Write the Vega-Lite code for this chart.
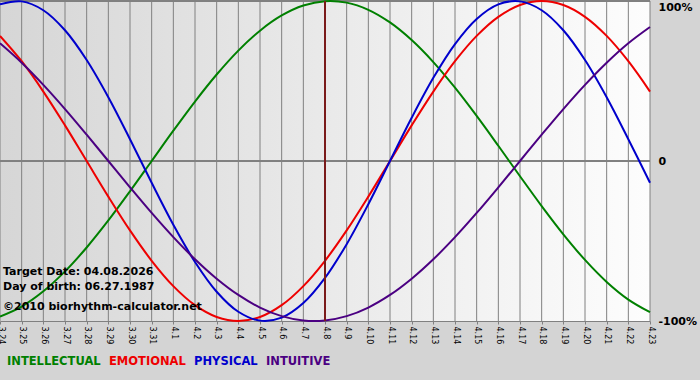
{
  "$schema": "https://vega.github.io/schema/vega-lite/v6.json",
  "width": 650,
  "height": 320,
  "autosize": {"type": "none"},
  "padding": {"left": 0, "top": 1, "right": 50, "bottom": 59},
  "background": "#d4d4d4",
  "config": {"view": {"stroke": null}, "font": "DejaVu Sans"},
  "title": {
    "text": ["Target Date: 04.08.2026", "Day of birth: 06.27.1987"],
    "subtitle": "©2010 biorhythm-calculator.net",
    "anchor": "start",
    "frame": "group",
    "orient": "top",
    "baseline": "top",
    "offset": 0,
    "dx": 3,
    "dy": 315,
    "font": "DejaVu Sans",
    "fontSize": 11,
    "fontWeight": "bold",
    "color": "#000000",
    "lineHeight": 15,
    "subtitleFont": "DejaVu Sans",
    "subtitleFontSize": 11,
    "subtitleFontWeight": "bold",
    "subtitleColor": "#000000",
    "subtitlePadding": 9
  },
  "data": {
    "values": [
      {"date": "3.24", "series": "INTELLECTUAL", "value": -0.9718},
      {"date": "3.25", "series": "INTELLECTUAL", "value": -0.9096},
      {"date": "3.26", "series": "INTELLECTUAL", "value": -0.8146},
      {"date": "3.27", "series": "INTELLECTUAL", "value": -0.6901},
      {"date": "3.28", "series": "INTELLECTUAL", "value": -0.5406},
      {"date": "3.29", "series": "INTELLECTUAL", "value": -0.3717},
      {"date": "3.30", "series": "INTELLECTUAL", "value": -0.1893},
      {"date": "3.31", "series": "INTELLECTUAL", "value": 0},
      {"date": "4.1", "series": "INTELLECTUAL", "value": 0.1893},
      {"date": "4.2", "series": "INTELLECTUAL", "value": 0.3717},
      {"date": "4.3", "series": "INTELLECTUAL", "value": 0.5406},
      {"date": "4.4", "series": "INTELLECTUAL", "value": 0.6901},
      {"date": "4.5", "series": "INTELLECTUAL", "value": 0.8146},
      {"date": "4.6", "series": "INTELLECTUAL", "value": 0.9096},
      {"date": "4.7", "series": "INTELLECTUAL", "value": 0.9718},
      {"date": "4.8", "series": "INTELLECTUAL", "value": 0.9989},
      {"date": "4.9", "series": "INTELLECTUAL", "value": 0.9898},
      {"date": "4.10", "series": "INTELLECTUAL", "value": 0.945},
      {"date": "4.11", "series": "INTELLECTUAL", "value": 0.866},
      {"date": "4.12", "series": "INTELLECTUAL", "value": 0.7557},
      {"date": "4.13", "series": "INTELLECTUAL", "value": 0.6182},
      {"date": "4.14", "series": "INTELLECTUAL", "value": 0.4582},
      {"date": "4.15", "series": "INTELLECTUAL", "value": 0.2817},
      {"date": "4.16", "series": "INTELLECTUAL", "value": 0.0951},
      {"date": "4.17", "series": "INTELLECTUAL", "value": -0.0951},
      {"date": "4.18", "series": "INTELLECTUAL", "value": -0.2817},
      {"date": "4.19", "series": "INTELLECTUAL", "value": -0.4582},
      {"date": "4.20", "series": "INTELLECTUAL", "value": -0.6182},
      {"date": "4.21", "series": "INTELLECTUAL", "value": -0.7557},
      {"date": "4.22", "series": "INTELLECTUAL", "value": -0.866},
      {"date": "4.23", "series": "INTELLECTUAL", "value": -0.945},
      {"date": "3.24", "series": "EMOTIONAL", "value": 0.7818},
      {"date": "3.25", "series": "EMOTIONAL", "value": 0.6235},
      {"date": "3.26", "series": "EMOTIONAL", "value": 0.4339},
      {"date": "3.27", "series": "EMOTIONAL", "value": 0.2225},
      {"date": "3.28", "series": "EMOTIONAL", "value": 0},
      {"date": "3.29", "series": "EMOTIONAL", "value": -0.2225},
      {"date": "3.30", "series": "EMOTIONAL", "value": -0.4339},
      {"date": "3.31", "series": "EMOTIONAL", "value": -0.6235},
      {"date": "4.1", "series": "EMOTIONAL", "value": -0.7818},
      {"date": "4.2", "series": "EMOTIONAL", "value": -0.901},
      {"date": "4.3", "series": "EMOTIONAL", "value": -0.9749},
      {"date": "4.4", "series": "EMOTIONAL", "value": -1},
      {"date": "4.5", "series": "EMOTIONAL", "value": -0.9749},
      {"date": "4.6", "series": "EMOTIONAL", "value": -0.901},
      {"date": "4.7", "series": "EMOTIONAL", "value": -0.7818},
      {"date": "4.8", "series": "EMOTIONAL", "value": -0.6235},
      {"date": "4.9", "series": "EMOTIONAL", "value": -0.4339},
      {"date": "4.10", "series": "EMOTIONAL", "value": -0.2225},
      {"date": "4.11", "series": "EMOTIONAL", "value": 0},
      {"date": "4.12", "series": "EMOTIONAL", "value": 0.2225},
      {"date": "4.13", "series": "EMOTIONAL", "value": 0.4339},
      {"date": "4.14", "series": "EMOTIONAL", "value": 0.6235},
      {"date": "4.15", "series": "EMOTIONAL", "value": 0.7818},
      {"date": "4.16", "series": "EMOTIONAL", "value": 0.901},
      {"date": "4.17", "series": "EMOTIONAL", "value": 0.9749},
      {"date": "4.18", "series": "EMOTIONAL", "value": 1},
      {"date": "4.19", "series": "EMOTIONAL", "value": 0.9749},
      {"date": "4.20", "series": "EMOTIONAL", "value": 0.901},
      {"date": "4.21", "series": "EMOTIONAL", "value": 0.7818},
      {"date": "4.22", "series": "EMOTIONAL", "value": 0.6235},
      {"date": "4.23", "series": "EMOTIONAL", "value": 0.4339},
      {"date": "3.24", "series": "PHYSICAL", "value": 0.9791},
      {"date": "3.25", "series": "PHYSICAL", "value": 0.9977},
      {"date": "3.26", "series": "PHYSICAL", "value": 0.9423},
      {"date": "3.27", "series": "PHYSICAL", "value": 0.817},
      {"date": "3.28", "series": "PHYSICAL", "value": 0.631},
      {"date": "3.29", "series": "PHYSICAL", "value": 0.3984},
      {"date": "3.30", "series": "PHYSICAL", "value": 0.1362},
      {"date": "3.31", "series": "PHYSICAL", "value": -0.1362},
      {"date": "4.1", "series": "PHYSICAL", "value": -0.3984},
      {"date": "4.2", "series": "PHYSICAL", "value": -0.631},
      {"date": "4.3", "series": "PHYSICAL", "value": -0.817},
      {"date": "4.4", "series": "PHYSICAL", "value": -0.9423},
      {"date": "4.5", "series": "PHYSICAL", "value": -0.9977},
      {"date": "4.6", "series": "PHYSICAL", "value": -0.9791},
      {"date": "4.7", "series": "PHYSICAL", "value": -0.8879},
      {"date": "4.8", "series": "PHYSICAL", "value": -0.7308},
      {"date": "4.9", "series": "PHYSICAL", "value": -0.5196},
      {"date": "4.10", "series": "PHYSICAL", "value": -0.2698},
      {"date": "4.11", "series": "PHYSICAL", "value": 0},
      {"date": "4.12", "series": "PHYSICAL", "value": 0.2698},
      {"date": "4.13", "series": "PHYSICAL", "value": 0.5196},
      {"date": "4.14", "series": "PHYSICAL", "value": 0.7308},
      {"date": "4.15", "series": "PHYSICAL", "value": 0.8879},
      {"date": "4.16", "series": "PHYSICAL", "value": 0.9791},
      {"date": "4.17", "series": "PHYSICAL", "value": 0.9977},
      {"date": "4.18", "series": "PHYSICAL", "value": 0.9423},
      {"date": "4.19", "series": "PHYSICAL", "value": 0.817},
      {"date": "4.20", "series": "PHYSICAL", "value": 0.631},
      {"date": "4.21", "series": "PHYSICAL", "value": 0.3984},
      {"date": "4.22", "series": "PHYSICAL", "value": 0.1362},
      {"date": "4.23", "series": "PHYSICAL", "value": -0.1362},
      {"date": "3.24", "series": "INTUITIVE", "value": 0.7357},
      {"date": "3.25", "series": "INTUITIVE", "value": 0.6142},
      {"date": "3.26", "series": "INTUITIVE", "value": 0.4759},
      {"date": "3.27", "series": "INTUITIVE", "value": 0.3247},
      {"date": "3.28", "series": "INTUITIVE", "value": 0.1646},
      {"date": "3.29", "series": "INTUITIVE", "value": 0},
      {"date": "3.30", "series": "INTUITIVE", "value": -0.1646},
      {"date": "3.31", "series": "INTUITIVE", "value": -0.3247},
      {"date": "4.1", "series": "INTUITIVE", "value": -0.4759},
      {"date": "4.2", "series": "INTUITIVE", "value": -0.6142},
      {"date": "4.3", "series": "INTUITIVE", "value": -0.7357},
      {"date": "4.4", "series": "INTUITIVE", "value": -0.8372},
      {"date": "4.5", "series": "INTUITIVE", "value": -0.9158},
      {"date": "4.6", "series": "INTUITIVE", "value": -0.9694},
      {"date": "4.7", "series": "INTUITIVE", "value": -0.9966},
      {"date": "4.8", "series": "INTUITIVE", "value": -0.9966},
      {"date": "4.9", "series": "INTUITIVE", "value": -0.9694},
      {"date": "4.10", "series": "INTUITIVE", "value": -0.9158},
      {"date": "4.11", "series": "INTUITIVE", "value": -0.8372},
      {"date": "4.12", "series": "INTUITIVE", "value": -0.7357},
      {"date": "4.13", "series": "INTUITIVE", "value": -0.6142},
      {"date": "4.14", "series": "INTUITIVE", "value": -0.4759},
      {"date": "4.15", "series": "INTUITIVE", "value": -0.3247},
      {"date": "4.16", "series": "INTUITIVE", "value": -0.1646},
      {"date": "4.17", "series": "INTUITIVE", "value": 0},
      {"date": "4.18", "series": "INTUITIVE", "value": 0.1646},
      {"date": "4.19", "series": "INTUITIVE", "value": 0.3247},
      {"date": "4.20", "series": "INTUITIVE", "value": 0.4759},
      {"date": "4.21", "series": "INTUITIVE", "value": 0.6142},
      {"date": "4.22", "series": "INTUITIVE", "value": 0.7357},
      {"date": "4.23", "series": "INTUITIVE", "value": 0.8372}
    ]
  },
  "layer": [
    {
      "data": {"values": [{"panel": "plot"}]},
      "mark": {
        "type": "rect",
        "fill": {
          "gradient": "linear",
          "x1": 0, "y1": 0, "x2": 1, "y2": 0,
          "stops": [
            {"offset": 0, "color": "#d6d6d6"},
            {"offset": 1, "color": "#fdfdfd"}
          ]
        }
      },
      "encoding": {}
    },
    {
      "transform": [{"filter": {"field": "series", "equal": "PHYSICAL"}}],
      "mark": {"type": "rule", "color": "#808080", "strokeWidth": 1},
      "encoding": {
        "x": {
          "field": "date",
          "type": "ordinal",
          "scale": {
            "type": "point",
            "padding": 0,
            "domain": ["3.24", "3.25", "3.26", "3.27", "3.28", "3.29", "3.30", "3.31", "4.1", "4.2", "4.3", "4.4", "4.5", "4.6", "4.7", "4.8", "4.9", "4.10", "4.11", "4.12", "4.13", "4.14", "4.15", "4.16", "4.17", "4.18", "4.19", "4.20", "4.21", "4.22", "4.23"]
          },
          "axis": {
            "title": null,
            "orient": "bottom",
            "labelAngle": 90,
            "labelFont": "DejaVu Sans",
            "labelFontSize": 8,
            "labelColor": "#000000",
            "labelPadding": 2,
            "labelOverlap": false,
            "labelBound": false,
            "ticks": true,
            "tickSize": 3,
            "tickColor": "#808080",
            "domain": true,
            "domainColor": "#808080",
            "grid": false
          }
        }
      }
    },
    {
      "mark": {"type": "rule", "color": "#808080", "strokeWidth": 1},
      "encoding": {"y": {"datum": 0, "type": "quantitative"}}
    },
    {
      "mark": {"type": "rule", "color": "#808080", "strokeWidth": 1},
      "encoding": {"y": {"datum": 1, "type": "quantitative"}}
    },
    {
      "mark": {"type": "line", "strokeWidth": 2, "interpolate": "catmull-rom"},
      "encoding": {
        "x": {"field": "date", "type": "ordinal"},
        "y": {
          "field": "value",
          "type": "quantitative",
          "scale": {"domain": [-1, 1], "nice": false, "zero": false},
          "axis": {
            "orient": "right",
            "title": null,
            "values": [-1, 0, 1],
            "labelExpr": "datum.value == 1 ? '100%' : datum.value == 0 ? '0' : '-100%'",
            "labelBaseline": {"condition": {"test": "datum.value == 1", "value": "top"}, "value": "middle"},
            "labelFont": "DejaVu Sans",
            "labelFontSize": 11,
            "labelFontWeight": "bold",
            "labelColor": "#000000",
            "labelPadding": 8,
            "labelOverlap": false,
            "labelBound": false,
            "labelFlush": false,
            "ticks": false,
            "domain": false,
            "grid": false
          }
        },
        "color": {
          "field": "series",
          "type": "nominal",
          "scale": {
            "domain": ["INTELLECTUAL", "EMOTIONAL", "PHYSICAL", "INTUITIVE"],
            "range": ["#008000", "#ee0000", "#0000cc", "#4b0082"]
          },
          "legend": {
            "orient": "none",
            "legendX": 7,
            "legendY": 355,
            "direction": "horizontal",
            "title": null,
            "symbolSize": 0.01,
            "symbolStrokeWidth": 0.01,
            "symbolOpacity": 0,
            "labelOffset": 0,
            "columnPadding": 8,
            "padding": 0,
            "labelFont": "DejaVu Sans",
            "labelFontSize": 11.5,
            "labelFontWeight": "bold",
            "encode": {"labels": {"update": {"fill": {"scale": "color", "field": "value"}, "x": {"value": 0}}}}
          }
        },
        "order": {"value": null}
      }
    },
    {
      "transform": [{"filter": "datum.series == 'PHYSICAL' && datum.date == '4.8'"}],
      "mark": {"type": "rule", "color": "#7a1a1a", "strokeWidth": 2},
      "encoding": {"x": {"field": "date", "type": "ordinal"}}
    }
  ]
}
